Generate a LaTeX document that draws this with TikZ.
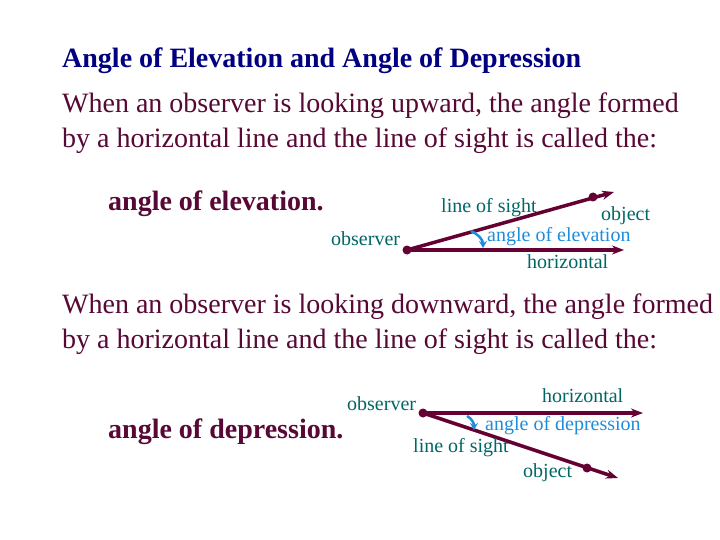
\documentclass[tikz,border=0pt]{standalone}
\usepackage{fontspec}
\setmainfont{Liberation Serif}
\definecolor{titlenavy}{RGB}{0, 0, 128}
\definecolor{textmaroon}{RGB}{88, 8, 52}
\definecolor{linemaroon}{RGB}{100, 0, 50}
\definecolor{labelteal}{RGB}{0, 102, 102}
\definecolor{anglblue}{RGB}{30, 140, 220}
\usetikzlibrary{arrows.meta, calc}

\tikzset{
  bodytext/.style={anchor=base west, inner sep=0pt, text=textmaroon, font=\fontsize{28}{34}\selectfont},
  termtext/.style={anchor=base west, inner sep=0pt, text=textmaroon, font=\fontsize{28}{34}\selectfont\bfseries},
  lbl/.style={anchor=base west, inner sep=0pt, text=labelteal, font=\fontsize{20}{24}\selectfont},
  anglbl/.style={anchor=base west, inner sep=0pt, text=anglblue, font=\fontsize{20}{24}\selectfont},
  rayline/.style={line width=3.5pt, linemaroon, -{Stealth[length=12pt, width=9pt]}},
  pointdot/.style={fill=linemaroon, circle, inner sep=0pt, minimum size=9pt},
  angarrow/.style={line width=2.5pt, anglblue, -{Stealth[length=7pt, width=8pt]}}
}

\begin{document}
\begin{tikzpicture}[x=1pt, y=-1pt]
  \useasboundingbox[fill=white] (0,0) rectangle (720,540);

  % Title
  \node[anchor=base west, inner sep=0pt, text=titlenavy, font=\fontsize{28}{33}\selectfont\bfseries] (title) at (62, 68) {Angle of Elevation and Angle of Depression};

  % Elevation text
  \node[bodytext] (up1) at (62, 113) {When an observer is looking upward, the angle formed};
  \node[bodytext] (up2) at (62, 148) {by a horizontal line and the line of sight is called the:};
  \node[termtext] (elev) at (108, 211) {angle of elevation.};

  % Elevation figure
  \coordinate (obsE) at (407, 250);
  \coordinate (horE) at (624, 250);
  \coordinate (objE) at (593, 197);
  \coordinate (tipE) at (614, 192);
  \draw[rayline] (obsE) -- (horE);
  \draw[rayline] (obsE) -- (tipE);
  \node[pointdot] (dotobsE) at (obsE) {};
  \node[pointdot] (dotobjE) at (objE) {};
  \coordinate (angE1) at (471, 231);
  \coordinate (angE2) at (483, 248);
  \draw[angarrow] (angE1) .. controls (479, 235) and (483, 240) .. (angE2);
  \node[lbl] (observerE) at (331, 245) {observer};
  \node[lbl] (sightE) at (441, 213) {line of sight};
  \node[lbl] (objectE) at (601, 221) {object};
  \node[anglbl] (angleE) at (487, 241) {angle of elevation};
  \node[lbl] (horizE) at (527, 268) {horizontal};

  % Depression text
  \node[bodytext] (down1) at (62, 313) {When an observer is looking downward, the angle formed};
  \node[bodytext] (down2) at (62, 348) {by a horizontal line and the line of sight is called the:};
  \node[termtext] (depr) at (108, 438) {angle of depression.};

  % Depression figure
  \coordinate (obsD) at (423, 413);
  \coordinate (horD) at (643, 413);
  \coordinate (objD) at (587, 468);
  \coordinate (tipD) at (618, 478);
  \draw[rayline] (obsD) -- (horD);
  \draw[rayline] (obsD) -- (tipD);
  \node[pointdot] (dotobsD) at (obsD) {};
  \node[pointdot] (dotobjD) at (objD) {};
  \coordinate (angD1) at (467, 416);
  \coordinate (angD2) at (474, 430);
  \draw[angarrow] (angD1) .. controls (472, 419) and (474, 423) .. (angD2);
  \node[lbl] (observerD) at (347, 410) {observer};
  \node[lbl] (horizD) at (542, 402) {horizontal};
  \node[anglbl] (angleD) at (485, 430) {angle of depression};
  \node[lbl] (sightD) at (413, 452) {line of sight};
  \node[lbl] (objectD) at (523, 477) {object};
\end{tikzpicture}
\end{document}
